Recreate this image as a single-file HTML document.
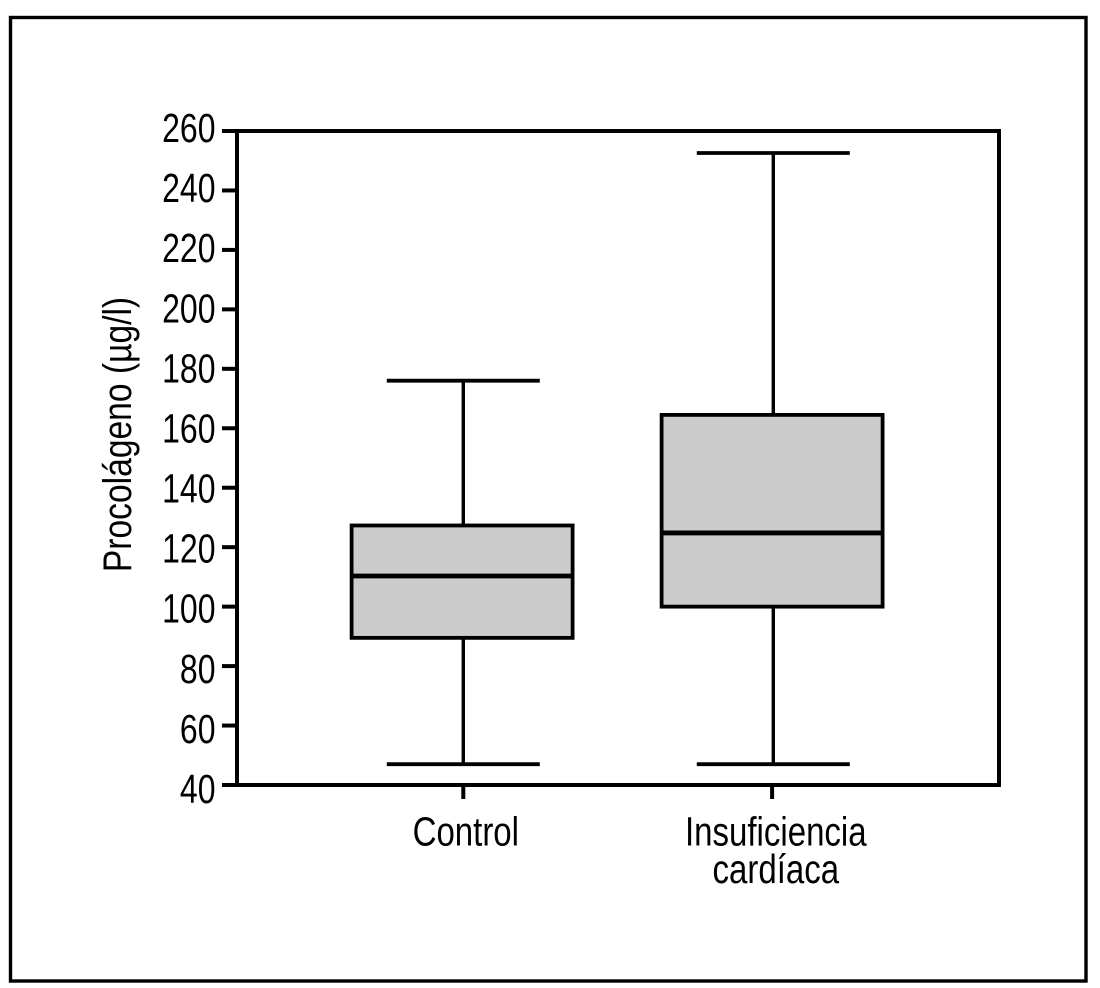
<!DOCTYPE html>
<html lang="es">
<head>
<meta charset="utf-8">
<title>Procolágeno</title>
<style>
html,body{margin:0;padding:0;background:#fff;}
svg{display:block;}
text{font-family:"Liberation Sans",sans-serif;fill:#000;}
</style>
</head>
<body>
<svg id="chart" width="1100" height="988" viewBox="0 0 1100 988" xmlns="http://www.w3.org/2000/svg">
<rect x="10.5" y="17.5" width="1075.5" height="963.5" fill="#fff" stroke="#000" stroke-width="3.4"/>
<g id="plot"></g>
<text font-size="40" text-anchor="middle" transform="translate(131,434.5) rotate(-90) scale(0.84,1)">Procolágeno (µg/l)</text>
</svg>
<script>
const categories = ["Control", "Insuficiencia cardíaca"];
const whiskerLow = [47, 47];
const q1 = [89.5, 100];
const median = [110.3, 124.8];
const q3 = [127.3, 164.5];
const whiskerHigh = [176, 252.6];
const yTicks = [40, 60, 80, 100, 120, 140, 160, 180, 200, 220, 240, 260];
const categoryLines = [["Control"], ["Insuficiencia", "cardíaca"]];

const NS = "http://www.w3.org/2000/svg";
const plot = document.getElementById("plot");
const Y_MIN = 40, Y_MAX = 260, Y_BOTTOM = 785, Y_TOP = 131;
const X_LEFT = 237, X_RIGHT = 999;
function yScale(v) { return Y_BOTTOM - (v - Y_MIN) * (Y_BOTTOM - Y_TOP) / (Y_MAX - Y_MIN); }
function xScale(i) { return 463.3 + i * 310; }
function yLabelBaseline(v) { return yScale(v) + 11 + (Y_MAX - v) / (Y_MAX - Y_MIN) * 7; }

function line(x1, y1, x2, y2, w) {
  const el = document.createElementNS(NS, "line");
  el.setAttribute("x1", x1);
  el.setAttribute("y1", y1);
  el.setAttribute("x2", x2);
  el.setAttribute("y2", y2);
  el.setAttribute("stroke", "#000");
  el.setAttribute("stroke-width", w);
  plot.appendChild(el);
  return el;
}
function label(str, x, y, anchor, sx) {
  const el = document.createElementNS(NS, "text");
  el.setAttribute("font-size", "40.5");
  el.setAttribute("text-anchor", anchor);
  el.setAttribute("transform", "translate(" + x + "," + y + ") scale(" + sx + ",1)");
  el.textContent = str;
  plot.appendChild(el);
  return el;
}

const frame = document.createElementNS(NS, "rect");


frame.setAttribute("x", X_LEFT);
frame.setAttribute("y", Y_TOP);
frame.setAttribute("width", X_RIGHT - X_LEFT);
frame.setAttribute("height", Y_BOTTOM - Y_TOP);
frame.setAttribute("fill", "none");
frame.setAttribute("stroke", "#000");
frame.setAttribute("stroke-width", "4");
plot.appendChild(frame);

yTicks.forEach(function (v) {
  const t = line(222, yScale(v), X_LEFT, yScale(v), 4);
  
  
  const l = label(String(v), 215.5, yLabelBaseline(v), "end", 0.79);
  
  
});

categories.forEach(function (c, i) {
  const cx = xScale(i);
  const boxHalf = 110.5, capHalf = 76.5;

  const whisker = line(cx, yScale(whiskerLow[i]), cx, yScale(whiskerHigh[i]), 3.4);
  
  

  const capHi = line(cx - capHalf, yScale(whiskerHigh[i]), cx + capHalf, yScale(whiskerHigh[i]), 3.8);
  
  

  const capLo = line(cx - capHalf, yScale(whiskerLow[i]), cx + capHalf, yScale(whiskerLow[i]), 3.8);
  
  

  const box = document.createElementNS(NS, "rect");
  
  
  box.setAttribute("x", cx - boxHalf - 1.2);
  box.setAttribute("y", yScale(q3[i]));
  box.setAttribute("width", boxHalf * 2);
  box.setAttribute("height", yScale(q1[i]) - yScale(q3[i]));
  box.setAttribute("fill", "#cccccc");
  box.setAttribute("stroke", "#000");
  box.setAttribute("stroke-width", "3.8");
  plot.appendChild(box);

  const med = line(cx - boxHalf - 1.2, yScale(median[i]), cx + boxHalf - 1.2, yScale(median[i]), 4.8);
  
  

  const tick = line(cx - i * 1.2, Y_BOTTOM, cx - i * 1.2, 799, 4);
  
  

  categoryLines[i].forEach(function (s, k) {
    const t = label(s, cx + 2.5, 845.5 + k * 37.5, "middle", 0.815);
    
    
  });
});
</script>
</body>
</html>
